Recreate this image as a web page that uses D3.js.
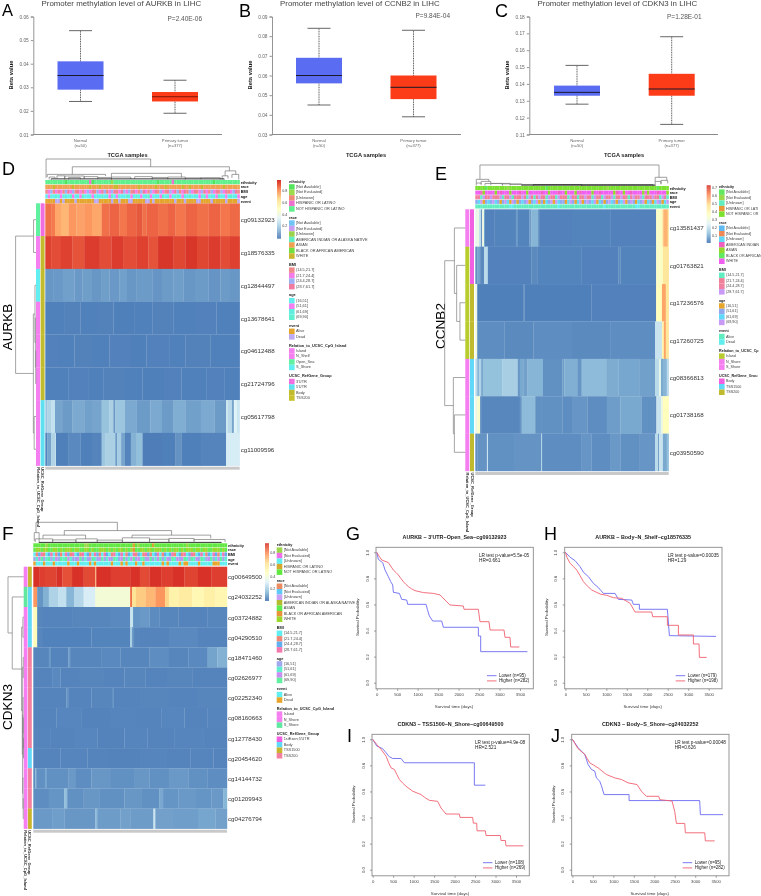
<!DOCTYPE html>
<html><head><meta charset="utf-8">
<style>html,body{margin:0;padding:0;background:#fff;overflow:hidden}svg{display:block;filter:blur(.3px)}text{font-family:"Liberation Sans",Arial,sans-serif}</style>
<script src="https://cdn.jsdelivr.net/npm/d3@7"></script></head><body>
<svg id="c" width="761" height="896"></svg>
<script>
// ---------- box plots: [low whisker, q1, median, q3, high whisker]
const boxGroups=["Normal","Primary tumor"];
const aurkbNormal=[.024,.029,.035,.041,.054], aurkbTumor=[.019,.024,.026,.028,.033];
const ccnb2Normal=[.045,.056,.060,.069,.084], ccnb2Tumor=[.039,.048,.054,.060,.083];
const cdkn3Normal=[.128,.133,.135,.139,.151], cdkn3Tumor=[.116,.133,.137,.146,.168];
const aurkbTicks=[.01,.02,.03,.04,.05,.06], ccnb2Ticks=[.03,.04,.05,.06,.07,.08,.09], cdkn3Ticks=[.11,.12,.13,.14,.15,.16,.17,.18];

// ---------- heatmap row labels and values as runs [end %, beta, end %, beta...]
const dProbes=["cg09132923","cg18576335","cg12844497","cg13678641","cg04612488","cg21724796","cg05617798","cg11009596"];
const dRow0=[3,.87,5,.85,8,.77,12,.74,16,.8,20,.78,24,.8,29,.77,33,.87,38,.89,42,.86,47,.89,50,.91,52,.87,58,.89,63,.87,67,.89,72,.86,78,.89,84,.87,90,.89,95,.86,100,.88];
const dRow1=[3,.95,8,.93,14,.95,20,.92,28,.96,34,.93,40,.96,47,.93,53,.95,58,.92,66,.97,72,.94,78,.97,84,.94,90,.96,95,.93,100,.95];
const dRow2=[4,.09,9,.095,15,.11,19,.095,24,.105,29,.09,33,.105,38,.095,42,.11,47,.09,55,.1,60,.085,66,.1,71,.105,77,.09,84,.1,90,.085,95,.1,100,.09];
const dRow3=[10,.042,18,.046,27,.042,35,.046,46,.04,55,.042,66,.046,77,.042,88,.044,100,.042];
const dRow4=[7,.044,15,.042,24,.046,33,.042,44,.044,52,.04,64,.044,72,.042,85,.046,100,.042];
const dRow5=[12,.042,22,.044,30,.042,41,.046,50,.042,61,.04,70,.044,83,.042,92,.044,100,.042];
const dRow6=[1,.2,3,.24,5,.28,9,.12,14,.1,20,.13,24,.11,29,.12,33,.19,35,.23,36,.1,41,.2,47,.13,54,.1,60,.13,66,.1,72,.14,80,.11,87,.13,93,.1,94,.3,96,.26,97,.12,98.5,.34,100,.3];
const dRow7=[1,.05,3,.12,5,.24,5.5,.28,12,.04,18,.06,24,.04,29,.05,31,.2,36,.23,37,.1,39,.22,41,.12,44,.05,47,.15,50,.18,60,.035,67,.04,70,.08,80,.04,93,.05,100,.32];

const eProbes=["cg13581437","cg01763821","cg17236576","cg17260725","cg08366813","cg01738168","cg03950590"];
const eRow0=[1,.28,2,.3,3,.2,3.5,.05,4.5,.3,5,.1,10,.036,21,.04,22,.08,28,.04,29,.08,32.5,.12,33,.05,50,.036,70,.04,93.5,.036,96.5,.36,97.2,.44,99.5,.56,100,.47];
const eRow1=[1,.06,2.5,.09,4.5,.05,6.5,.2,7,.04,29,.036,32,.05,55,.04,74,.036,75,.05,93.5,.04,97,.36,100,.47];
const eRow2=[1,.3,25,.034,25.5,.07,60,.034,93.5,.036,96.5,.38,98.5,.58,100,.47];
const eRow3=[1,.32,15,.055,30,.05,50,.055,70,.05,93,.055,96.5,.22,97.5,.42,98.5,.58,100,.47];
const eRow4=[1,.2,2,.12,3,.18,4,.1,14,.14,22,.17,23,.07,25,.1,27,.085,35,.12,45,.06,46,.08,53,.11,55,.07,68,.13,74,.105,85,.095,93,.085,95,.2,96,.28,97,.1,99,.12,100,.2];
const eRow5=[1,.3,2.5,.35,3,.05,23,.045,24,.07,31,.13,34,.06,45,.06,50,.055,58,.07,68,.055,75,.08,86,.1,93,.06,93.6,.03,96,.22,97,.3,100,.38];
const eRow6=[1,.06,6,.065,6.5,.25,7,.065,20,.06,34,.065,34.5,.18,35,.065,55,.055,60,.07,70,.055,75,.075,85,.06,93,.07,94.5,.2,95,.08,97,.22,99,.1,100,.14];

const fProbes=["cg00649500","cg24032252","cg03724882","cg04290510","cg18471460","cg02626977","cg02252340","cg08160663","cg12778430","cg20454620","cg14144732","cg01209943","cg04276794"];
const fRow0=[3,.95,6,.93,12,.92,15,.95,20,.9,26,.95,32,.91,32.5,.72,40,.95,50,.93,55,.95,60,.91,66,.95,72,.93,78,.95,85,.92,92,.95,100,.93];
const fRow1=[2,.78,5,.08,8,.14,13,.23,17,.27,21,.15,26,.24,32,.31,50,.42,51,.85,53,.62,58,.68,63,.72,68,.78,70,.66,75,.55,82,.58,88,.52,94,.56,100,.53];
const fRow2=[2,.5,5,.05,20,.045,40,.05,50,.055,51.5,.28,55,.08,60,.09,65,.06,75,.05,90,.045,100,.05];
const fRow3=[2,.5,5,.048,30,.04,50,.044,51,.22,52,.08,55,.05,70,.045,85,.055,100,.045];
const fRow4=[8,.05,9,.09,18,.045,19,.1,35,.05,45,.055,60,.05,70,.065,80,.05,90,.055,95,.11,100,.14];
const fRow5=[10,.045,14,.055,24,.045,36,.05,47,.045,58,.05,69,.045,82,.05,100,.045];
const fRow6=[17,.045,18,.08,30,.045,41,.05,41.5,.08,55,.045,70,.05,85,.045,100,.05];
const fRow7=[12,.045,25,.048,40,.043,52,.046,66,.045,78,.048,90,.045,100,.046];
const fRow8=[9,.046,21,.045,33,.048,47,.043,59,.046,73,.045,88,.046,100,.045];
const fRow9=[14,.045,28,.046,39,.045,55,.043,68,.046,81,.045,93,.046,100,.045];
const fRow10=[1,.06,1.5,.15,6,.07,7,.12,18,.07,22,.09,30,.065,40,.085,52,.07,60,.085,70,.07,80,.09,90,.07,100,.065];
const fRow11=[8,.065,16,.08,17.5,.17,26,.07,34,.085,47,.07,56,.085,65,.07,67,.12,75,.08,84,.09,92,.08,98,.09,100,.15];
const fRow12=[10,.09,16,.1,32,.085,33,.16,45,.095,50,.105,62,.095,63,.28,72,.105,85,.1,94,.115,100,.105];

// ---------- column annotation tracks, one digit per column (index into legend)
const dEthnicity="44444444044444444430444444414444444444444444440444443444444444444444404444444444".split("").map(Number);
const dRace="44464444444644444464446444446644444444644444464446444444644644446444444446444444".split("").map(Number);
const dBmi="01201310231203101213021320123013212031023102130210321320130213012310213021301230".split("").map(Number);
const dAge="01203012203102130021020302130120032103010231020130210230120302012310201320103021".split("").map(Number);
const dEvent="00001101000010000000110000010010001100000110100000000100010000110000100000100001".split("").map(Number);

const eEthnicity="44440444444441444444444444444044444444444444444444444414444444444444444444404444".split("").map(Number);
const eRace="66346666463666466636646666636646663664666463666646636666643664663666646466636664".split("").map(Number);
const eBmi="12031232123012302113203102321032103212031201232103120321302131202312301213210320".split("").map(Number);
const eAge="12301213210132031012130123010213032110231023013123021013210123013102130210231023".split("").map(Number);
const eEvent="00000000000000110000000000000000001000000000000000000100000000000011000000000000".split("").map(Number);

const fEthnicity="44444044444444444444400444444444444444444340444443444444444444404444444444444444".split("").map(Number);
const fRace="46646644664646664664466464466646464664646544664664666464646646466646646644666464".split("").map(Number);
const fBmi="01231023012103213021302103210320130230120312013210230120231021302310230120321032".split("").map(Number);
const fAge="01230130120313210023010231023012031023012302130230123012031202310312031023012301".split("").map(Number);
const fEvent="10001000100000100010000101000000100010100010010000000101000010110000100000111000".split("").map(Number);

// ---------- row side annotations (index into legend)
const dRelation=[2,0,3,0,0,0,0,0], dGroup=[0,2,2,2,2,2,1,1];
const eRelation=[1,0,0,0,2,2,2], eGroup=[0,0,2,2,1,1,2];
const fRelation=[0,2,0,0,0,0,0,0,0,0,0,0,0], fGroup=[2,1,1,1,3,3,3,3,3,1,3,3,2];

// ---------- legend text and colours
const ethnicityLabels=["[Not Available]","[Not Evaluated]","[Unknown]","HISPANIC OR LATINO","NOT HISPANIC OR LATINO"];
const raceLabels=["[Not Available]","[Not Evaluated]","[Unknown]","AMERICAN INDIAN OR ALASKA NATIVE","ASIAN","BLACK OR AFRICAN AMERICAN","WHITE"];
const eEthnicityLabels=["[Not Available]","[Not Evaluated]","[Unknown]","HISPANIC OR LATI","NOT HISPANIC OR"];
const eRaceLabels=["[Not Available]","[Not Evaluated]","[Unknown]","AMERICAN INDIAN","ASIAN","BLACK OR AFRICAN","WHITE"];
const bmiLabels=["(14.5,21.7]","(21.7,24.4]","(24.4,28.7]","(28.7,61.7]"];
const ageLabels=["(16,51]","(51,61]","(61,69]","(69,90]"];
const eventLabels=["Alive","Dead"];
const dRelLabels=["Island","N_Shelf","Open_Sea","S_Shore"], eRelLabels=["Island","N_Shore","S_Shore"], fRelLabels=["Island","N_Shore","S_Shore"];
const dGroupLabels=["3'UTR","5'UTR","Body","TSS200"], eGroupLabels=["Body","TSS1500","TSS200"], fGroupLabels=["1stExon;5'UTR","Body","TSS1500","TSS200"];

const dEthColors=["#54e45c","#9cdb4c","#f08a78","#f070d0","#5ef08c"], dRaceColors=["#6fc4f5","#c69cf0","#9bd24a","#60edc0","#f0a050","#70e040","#c9b52e"], dBmiColors=["#f08a8a","#f47ce8","#9db2f5","#f07aa0"], dAgeColors=["#60eef0","#f57ef0","#60eee0","#60f0d0"], dEventColors=["#e3a52c","#bcaaf5"], dRelColors=["#f57ef0","#f57ef0","#60f0a0","#60eef0"], dGroupColors=["#f06ee0","#5ee0f0","#c2bb2e","#c8c02c"];
const eEthColors=["#60e860","#9bd84c","#60eec0","#e8983a","#7ce030"], eRaceColors=["#60b8f0","#f08858","#60d8f8","#f060c0","#90d82c","#60e860","#f060f0"], eBmiColors=["#60eec0","#f08098","#f080a0","#c89af5"], eAgeColors=["#e8a52c","#90a8f0","#60d8f8","#c89af5"], eEventColors=["#60eec0","#60eeee"], eRelColors=["#b8cc2e","#f57ef0","#f57ef0"], eGroupColors=["#f060e0","#60d8f8","#c0bb2e"];
const fEthColors=["#9ad84a","#f070e8","#60eef0","#d4a82c","#60e840"], fRaceColors=["#ee8a60","#60c8f8","#c8a0f4","#b4bb2e","#60ec50","#e8953a","#9ad82c"], fBmiColors=["#60eef0","#f08878","#60b0f0","#f478b0"], fAgeColors=["#a0a8f0","#60eed0","#c890f0","#60f0a0"], fEventColors=["#60eef0","#e8a52c"], fRelColors=["#f57ef0","#f57ef0","#60e8a0"], fGroupColors=["#f060e0","#60d8f8","#c8b52e","#f480a0"];

// ---------- dendrograms. Columns: [from %, to %, height, left child height, right child height]
const dColTree=[[.4,54.2,1,.08,.62],[13.9,94.7,.62,.25,.42],[1,31,.25,.12,.17],[34,70,.3,.12,.1],[92.5,98,.42,.18,.25],[91,94,.18,0,.05],[96,99.5,.25,.08,0],[2,5,.12,0,.05],[6,10,.18,.05,0],[10,20,.17,.05,.06],[12,18,.1,0,0],[20,27,.14,.03,.04],[27,34,.1,.02,0],[34,44,.12,0,.03],[46,55,.14,.03,.04],[55,63,.1,0,.02],[63,72,.12,.02,.03],[72,80,.08,0,.02],[80,90,.09,.02,0],[3,92,.03,0,0]];
const eColTree=[[2.4,95,1,.3,.4],[.5,7,.3,.12,.2],[.5,3,.12,0,.03],[3,8,.2,.08,.1],[5,14,.1,0,.02],[8,18,.1,.02,.03],[14,24,.08,0,.02],[93,99,.4,.2,.25],[93,96,.2,0,.05],[96,99.5,.25,.08,.1],[18,30,.05,0,0],[30,55,.04,0,0],[55,92,.03,0,0],[24,93,.02,0,0]];
const fColTree=[[1.4,43.4,1,.5,.6],[16,71.4,.6,.38,.38],[5,27,.38,.22,.2],[51,91.6,.38,.25,.22],[.5,3,.5,.1,.05],[1,10,.2,.05,.08],[10,22,.15,.03,.05],[22,33,.2,.05,.08],[33,46,.14,.03,.05],[46,60,.25,.05,.08],[60,70,.18,.02,.06],[70,83,.22,.05,.1],[83,99,.17,.05,.04],[3,97,.03,0,0]];
// Rows: [height, child, child], a number is a row index
const dRowTree=[1,[.12,0,1],[.13,[.05,2,[.03,3,[.015,4,5]]],[.09,6,7]]];
const eRowTree=[1,[.53,0,[.42,1,[.26,2,3]]],[.58,4,[.53,5,6]]];
const fRowTree=[1,0,[.73,1,[.13,[.05,2,3],[.09,[.03,4,5],[.07,[.04,6,[.025,7,[.012,8,9]]],[.05,10,[.03,11,12]]]]]]];

// ---------- survival curves: [days, survival] pairs
const gLower=[[0,1],[40,.946],[147,.92],[204,.864],[285,.813],[342,.775],[391,.749],[407,.693],[554,.685],[611,.639],[733,.634],[757,.601],[1205,.601],[1237,.563],[1286,.512],[1368,.473],[1587,.473],[1628,.425],[2483,.425],[2483,.358],[2540,.358],[2540,.238],[3680,.238]];
const gHigher=[[0,1],[60,.97],[122,.941],[285,.921],[340,.895],[407,.864],[470,.845],[529,.826],[590,.8],[651,.775],[710,.755],[773,.737],[850,.72],[936,.706],[1140,.691],[1384,.685],[1547,.673],[1669,.634],[1791,.596],[2116,.588],[2133,.563],[2483,.563],[2523,.468],[2743,.468],[2768,.404],[3110,.404],[3134,.348],[3256,.348],[3272,.274],[3484,.274]];
const hLower=[[0,1],[114,.962],[236,.936],[358,.89],[440,.847],[562,.813],[684,.762],[806,.729],[928,.685],[1213,.685],[1294,.639],[1620,.634],[1661,.601],[1807,.601],[1807,.563],[2491,.563],[2540,.361],[3680,.355]];
const hHigher=[[0,1],[40,.96],[114,.916],[200,.89],[277,.864],[360,.82],[440,.775],[540,.74],[643,.711],[847,.68],[1009,.67],[1172,.652],[1376,.647],[1579,.609],[1701,.542],[2108,.542],[2133,.506],[2491,.506],[2491,.44],[2760,.44],[2760,.366],[3126,.366],[3126,.297],[3264,.297],[3272,.194],[3451,.194]];
const iLower=[[0,1],[98,.949],[244,.928],[407,.866],[488,.853],[692,.853],[773,.82],[2483,.82],[2483,.648],[2751,.648]];
const iHigher=[[0,1],[100,.96],[204,.923],[326,.871],[390,.82],[448,.781],[529,.769],[590,.73],[651,.692],[730,.665],[814,.64],[977,.602],[1180,.576],[1290,.55],[1384,.532],[1587,.524],[1669,.473],[1791,.427],[2116,.427],[2133,.401],[2442,.401],[2458,.357],[2540,.357],[2548,.298],[2751,.298],[2768,.262],[3118,.262],[3134,.224],[3240,.224],[3256,.183],[3679,.183]];
const jLower=[[0,1],[138,.936],[301,.884],[383,.807],[464,.769],[545,.756],[586,.704],[667,.679],[708,.645],[773,.576],[1384,.576],[1384,.53],[3109,.53],[3126,.422],[3679,.422]];
const jHigher=[[0,1],[138,.928],[301,.884],[423,.82],[627,.781],[830,.73],[1034,.704],[1197,.692],[1359,.666],[1579,.653],[1685,.602],[1807,.563],[2108,.563],[2133,.537],[2434,.527],[2499,.447],[2540,.355],[2743,.355],[2759,.283],[3232,.283],[3248,.221],[3476,.221]];
const kmXTicks=[0,500,1000,1500,2000,2500,3000,3500], kmYTicks=[0,.2,.4,.6,.8,1];

const trackNames=["ethnicity","race","BMI","age","event"];
const rampColors=["#4575b4","#91bfdb","#e0f3f8","#ffffbf","#fee090","#fc8d59","#d73027"];

const svg=d3.select("#c");
function txt(g,x,y,s,size,o={}){
  return g.append("text").attr("x",x).attr("y",y).attr("font-size",size).attr("fill",o.fill||"#333")
    .attr("font-weight",o.bold?"bold":null).attr("text-anchor",o.anchor||"start").attr("dominant-baseline","central")
    .attr("font-family",o.font||null).attr("transform",o.rot?`rotate(${o.rot} ${x} ${y})`:null).text(s);
}

// ---------- panel letters and gene names
const letterFont='"Open Sans",sans-serif';
[["A",2,15.5,16.5],["B",239,16.5,18],["C",495,16.5,18],["D",2,175,18],["E",435,180,18],["F",2,540,19],["G",346,540,18],["H",544,540,18],["I",347,742,18],["J",551,742,18]].forEach(d=>{
  svg.append("text").attr("x",d[1]).attr("y",d[2]).attr("font-size",d[3]).attr("font-family",letterFont).attr("fill","#000").text(d[0]);
});
[["AURKB",11.5,327],["CCNB2",444.5,326],["CDKN3",11.5,707]].forEach(d=>{
  svg.append("text").attr("font-size",13.5).attr("font-family",letterFont).attr("fill","#000").attr("text-anchor","middle")
    .attr("transform",`translate(${d[1]},${d[2]}) rotate(-90)`).text(d[0]);
});

// ---------- box plots
function boxPanel(c){
  const g=svg.append("g");
  const x=d3.scalePoint().domain(boxGroups).range(c.centers);
  const y=d3.scaleLinear().domain(d3.extent(c.ticks)).range([134.5,16.5]);
  const ax=g.append("g").attr("transform",`translate(${c.x0},0)`).call(d3.axisLeft(y).tickValues(c.ticks).tickSize(2.5).tickFormat(d3.format(".2f")));
  ax.selectAll("path,line").attr("stroke","#8a8a8a").attr("stroke-width",.9);
  ax.selectAll("text").attr("font-size",4.8).attr("fill","#666").attr("x",-4.5);
  g.append("line").attr("x1",c.x0).attr("x2",c.x1).attr("y1",134.5).attr("y2",134.5).attr("stroke","#8a8a8a").attr("stroke-width",1);
  c.boxes.forEach((b,i)=>{
    const cx=x(boxGroups[i]), col=i?"#fc3c18":"#5a6cf2";
    g.append("line").attr("x1",cx).attr("x2",cx).attr("y1",y(b[0])).attr("y2",y(b[4])).attr("stroke","#444").attr("stroke-width",.9).attr("stroke-dasharray","1,.7");
    [b[0],b[4]].forEach(v=>g.append("line").attr("x1",cx-11.5).attr("x2",cx+11.5).attr("y1",y(v)).attr("y2",y(v)).attr("stroke","#555").attr("stroke-width",.9));
    g.append("rect").attr("x",cx-23).attr("width",46).attr("y",y(b[3])).attr("height",y(b[1])-y(b[3])).attr("fill",col);
    g.append("line").attr("x1",cx-23).attr("x2",cx+23).attr("y1",y(b[2])).attr("y2",y(b[2])).attr("stroke",i&&c.dark?"#7a1a08":"#1a1a2a").attr("stroke-width",1);
    txt(g,cx,140.5,boxGroups[i],4.2,{anchor:"middle",fill:"#666"});
    txt(g,cx,145.5,i?"(n=377)":"(n=50)",4.2,{anchor:"middle",fill:"#666"});
  });
  txt(g,c.titleX,3.6,c.title,7.9,{fill:"#444"});
  txt(g,c.pX,c.pY,c.p,6.5,{fill:"#555",font:'"Liberation Serif",serif'});
  txt(g,c.labelX,75,"Beta value",5.8,{bold:1,rot:-90,anchor:"middle",fill:"#222"});
  txt(g,c.sampleX,154.5,"TCGA samples",5.7,{bold:1,anchor:"middle",fill:"#222"});
}
boxPanel({x0:33.3,x1:222,centers:[80.5,175],ticks:aurkbTicks,boxes:[aurkbNormal,aurkbTumor],title:"Promoter methylation level of AURKB in LIHC",titleX:41.5,p:"P=2.40E-06",pX:167.5,pY:18,labelX:10.5,sampleX:127.5,dark:1});
boxPanel({x0:272,x1:461,centers:[319,413.5],ticks:ccnb2Ticks,boxes:[ccnb2Normal,ccnb2Tumor],title:"Promoter methylation level of CCNB2 in LIHC",titleX:280,p:"P=9.84E-04",pX:415.5,pY:15.7,labelX:249.5,sampleX:366});
boxPanel({x0:529.3,x1:718,centers:[577,671.7],ticks:cdkn3Ticks,boxes:[cdkn3Normal,cdkn3Tumor],title:"Promoter methylation level of CDKN3 in LIHC",titleX:537.5,p:"P=1.28E-01",pX:667,pY:16.6,labelX:507,sampleX:624});

// ---------- heatmaps
function heatPanel(c){
  const g=svg.append("g");
  const w=c.x1-c.x0;
  const px=d3.scaleLinear().domain([0,100]).range([c.x0,c.x1]);
  const rows=d3.scaleBand().domain(d3.range(c.rows.length)).range([c.top,c.bottom]);
  const color=d3.scaleLinear().domain(d3.range(7).map(i=>c.vMin+(c.vMax-c.vMin)*i/6)).range(rampColors).clamp(true);

  // cells
  c.rows.forEach((r,i)=>{
    let prev=0;
    for(let k=0;k<r.length;k+=2){
      g.append("rect").attr("x",px(prev)).attr("y",rows(i)).attr("width",px(r[k])-px(prev)+.2).attr("height",rows.bandwidth()+.2).attr("fill",color(r[k+1]));
      prev=r[k];
    }
    txt(g,c.x1+1,rows(i)+rows.bandwidth()/2,c.probes[i],6.2,{fill:"#333"});
  });

  // column tracks
  c.tracks.forEach((t,ti)=>{
    const y=c.trackTop+ti*c.trackStep;
    t.values.forEach((v,i)=>{
      g.append("rect").attr("x",c.x0+i*w/t.values.length).attr("y",y).attr("width",w/t.values.length+.15).attr("height",c.trackStep-.5).attr("fill",t.colors[v]);
    });
    txt(g,c.x1+1,y+c.trackStep/2-.2,trackNames[ti],3.9,{bold:1,fill:"#111"});
  });

  // row side tracks
  [[c.sideX[0],c.relation,c.relColors],[c.sideX[1],c.group,c.groupColors]].forEach(s=>{
    s[1].forEach((v,i)=>g.append("rect").attr("x",s[0]).attr("y",rows(i)).attr("width",c.sideW).attr("height",rows.bandwidth()+.2).attr("fill",s[2][v]));
  });
  txt(g,c.sideX[0]+c.sideW/2,c.bottom+1.5,"Relation_to_UCSC_CpG_Island",4,{bold:1,rot:90,fill:"#222"});
  txt(g,c.sideX[1]+c.sideW/2,c.bottom+1.5,"UCSC_RefGene_Group",4,{bold:1,rot:90,fill:"#222"});

  // grey strip of tiny sample names
  g.append("rect").attr("x",c.x0).attr("y",c.bottom+1).attr("width",w).attr("height",3).attr("fill","#c9c9c9");

  // column dendrogram
  const dy=d3.scaleLinear().domain([0,1]).range([c.dendBottom,c.dendTop]);
  c.colTree.forEach(d=>{
    const p=d3.path();
    p.moveTo(px(d[0]),dy(d[3])); p.lineTo(px(d[0]),dy(d[2])); p.lineTo(px(d[1]),dy(d[2])); p.lineTo(px(d[1]),dy(d[4]));
    g.append("path").attr("d",p.toString()).attr("fill","none").attr("stroke",d[2]<.05?"#333":"#777").attr("stroke-width",d[2]<.05?1:.7);
  });

  // row dendrogram
  const hx=d3.scaleLinear().domain([0,1]).range([c.sideX[0],c.dendLeft]);
  (function draw(n){
    if(typeof n==="number") return {y:rows(n)+rows.bandwidth()/2,x:c.sideX[0]};
    const a=draw(n[1]), b=draw(n[2]), x=hx(n[0]);
    const p=d3.path(); p.moveTo(a.x,a.y); p.lineTo(x,a.y); p.lineTo(x,b.y); p.lineTo(b.x,b.y);
    g.append("path").attr("d",p.toString()).attr("fill","none").attr("stroke","#808080").attr("stroke-width",.7);
    return {y:(a.y+b.y)/2,x};
  })(c.rowTree);

  // colour bar
  const bar=d3.scaleLinear().domain([c.barMax,c.barMin]).range([c.barTop,c.barTop+57.4]);
  d3.range(c.barMax,c.barMin,-(c.barMax-c.barMin)/57).forEach(v=>{
    g.append("rect").attr("x",c.barX).attr("y",bar(v)).attr("width",4).attr("height",1.2).attr("fill",color(v));
  });
  c.barTicks.forEach(v=>txt(g,c.barX+5.2,bar(v),String(v),3.7,{fill:"#444"}));

  // legend
  let y=c.legendTop;
  const fs=c.legendFont||3.85;
  c.legend.forEach(l=>{
    txt(g,c.legendX,y,l.title,fs,{bold:1,fill:"#222"});
    y+=2.7;
    l.labels.forEach((s,i)=>{
      g.append("rect").attr("x",c.legendX).attr("y",y).attr("width",5.6).attr("height",5.5).attr("fill",l.colors[i]);
      txt(g,c.legendX+7,y+2.75,s,fs,{fill:"#444"});
      y+=5.5;
    });
    y+=5.9;
  });
}
heatPanel({x0:45.3,x1:239.7,top:203.3,bottom:465.7,rows:[dRow0,dRow1,dRow2,dRow3,dRow4,dRow5,dRow6,dRow7],probes:dProbes,vMin:.017,vMax:.98,
  trackTop:180,trackStep:4.75,tracks:[{values:dEthnicity,colors:dEthColors},{values:dRace,colors:dRaceColors},{values:dBmi,colors:dBmiColors},{values:dAge,colors:dAgeColors},{values:dEvent,colors:dEventColors}],
  sideX:[36,40.6],sideW:4,relation:dRelation,relColors:dRelColors,group:dGroup,groupColors:dGroupColors,
  dendTop:159,dendBottom:179.5,colTree:dColTree,dendLeft:15.6,rowTree:dRowTree,
  barX:277,barTop:180,barMax:.98,barMin:.017,barTicks:[.8,.6,.4,.2],legendX:289,legendTop:181.5,
  legend:[{title:"ethnicity",labels:ethnicityLabels,colors:dEthColors},{title:"race",labels:raceLabels,colors:dRaceColors},{title:"BMI",labels:bmiLabels,colors:dBmiColors},{title:"age",labels:ageLabels,colors:dAgeColors},{title:"event",labels:eventLabels,colors:dEventColors},{title:"Relation_to_UCSC_CpG_Island",labels:dRelLabels,colors:dRelColors},{title:"UCSC_RefGene_Group",labels:dGroupLabels,colors:dGroupColors}]});
heatPanel({x0:475.3,x1:668.7,top:209.3,bottom:471,rows:[eRow0,eRow1,eRow2,eRow3,eRow4,eRow5,eRow6],probes:eProbes,vMin:.016,vMax:.734,
  trackTop:186,trackStep:4.6,tracks:[{values:eEthnicity,colors:eEthColors},{values:eRace,colors:eRaceColors},{values:eBmi,colors:eBmiColors},{values:eAge,colors:eAgeColors},{values:eEvent,colors:eEventColors}],
  sideX:[465.3,470],sideW:4,relation:eRelation,relColors:eRelColors,group:eGroup,groupColors:eGroupColors,
  dendTop:165,dendBottom:185.5,colTree:eColTree,dendLeft:444.7,rowTree:eRowTree,
  barX:706.7,barTop:185.3,barMax:.734,barMin:.016,barTicks:[.7,.6,.5,.4,.3,.2,.1],legendX:719,legendTop:186.7,legendFont:3.7,
  legend:[{title:"ethnicity",labels:eEthnicityLabels,colors:eEthColors},{title:"race",labels:eRaceLabels,colors:eRaceColors},{title:"BMI",labels:bmiLabels,colors:eBmiColors},{title:"age",labels:ageLabels,colors:eAgeColors},{title:"event",labels:eventLabels,colors:eEventColors},{title:"Relation_to_UCSC_Cp",labels:eRelLabels,colors:eRelColors},{title:"UCSC_RefGene_Grou",labels:eGroupLabels,colors:eGroupColors}]});
heatPanel({x0:33.3,x1:227,top:566.7,bottom:828.7,rows:[fRow0,fRow1,fRow2,fRow3,fRow4,fRow5,fRow6,fRow7,fRow8,fRow9,fRow10,fRow11,fRow12],probes:fProbes,vMin:.013,vMax:.954,
  trackTop:543.3,trackStep:4.55,tracks:[{values:fEthnicity,colors:fEthColors},{values:fRace,colors:fRaceColors},{values:fBmi,colors:fBmiColors},{values:fAge,colors:fAgeColors},{values:fEvent,colors:fEventColors}],
  sideX:[23.7,28],sideW:3.8,relation:fRelation,relColors:fRelColors,group:fGroup,groupColors:fGroupColors,
  dendTop:522.3,dendBottom:543,colTree:fColTree,dendLeft:8,rowTree:fRowTree,
  barX:265,barTop:543.3,barMax:.954,barMin:.013,barTicks:[.8,.6,.4,.2],legendX:276.7,legendTop:544.7,
  legend:[{title:"ethnicity",labels:ethnicityLabels,colors:fEthColors},{title:"race",labels:raceLabels,colors:fRaceColors},{title:"BMI",labels:bmiLabels,colors:fBmiColors},{title:"age",labels:ageLabels,colors:fAgeColors},{title:"event",labels:eventLabels,colors:fEventColors},{title:"Relation_to_UCSC_CpG_Island",labels:fRelLabels,colors:fRelColors},{title:"UCSC_RefGene_Group",labels:fGroupLabels,colors:fGroupColors}]});

// ---------- survival panels
function kmPanel(c){
  const g=svg.append("g");
  const fw=157.3, T=c.top, B=c.top+141.5;
  const x=d3.scaleLinear().domain([0,3500]).range([c.left+.7,c.left+.7+143.3]);
  const y=d3.scaleLinear().domain([0,1]).range([T+135.4,T+5]);
  g.append("rect").attr("x",c.left).attr("y",T).attr("width",fw).attr("height",B-T).attr("fill","none").attr("stroke","#8a8a8a").attr("stroke-width",.9);
  const ax=g.append("g").attr("transform",`translate(0,${B})`).call(d3.axisBottom(x).tickValues(kmXTicks).tickSize(2).tickFormat(d3.format("d")));
  ax.select("path").remove();
  ax.selectAll("line").attr("stroke","#777").attr("stroke-width",.7);
  ax.selectAll("text").attr("font-size",4.2).attr("fill","#444").attr("y",4);
  const ay=g.append("g").attr("transform",`translate(${c.left},0)`).call(d3.axisLeft(y).tickValues(kmYTicks).tickSize(2).tickFormat(d3.format(".1f")));
  ay.select("path").remove();
  ay.selectAll("line").attr("stroke","#777").attr("stroke-width",.7);
  ay.selectAll("text").attr("font-size",4.2).attr("fill","#444").attr("dy",0).attr("x",0).attr("y",0).attr("text-anchor","middle")
    .attr("dominant-baseline","central").attr("transform","translate(-9,0) rotate(-90)");
  const line=d3.line().x(d=>x(d[0])).y(d=>y(d[1])).curve(d3.curveLinear);
  g.append("path").attr("d",line(c.lower)).attr("fill","none").attr("stroke","#6a6af2").attr("stroke-width",.9);
  g.append("path").attr("d",line(c.higher)).attr("fill","none").attr("stroke","#f0606e").attr("stroke-width",.9);
  txt(g,c.left+78.5,T-10.3,c.title,5.4,{bold:1,anchor:"middle",fill:"#222"});
  txt(g,c.labelX,T+70,"Survival Probability",4.4,{rot:-90,anchor:"middle",fill:"#333"});
  txt(g,c.left+78,B+18,"Survival time (days)",4.4,{anchor:"middle",fill:"#333"});
  txt(g,c.left+103,T+7.8,c.lr,4.7,{fill:"#222"});
  txt(g,c.left+103,T+12.8,c.hr,4.7,{fill:"#222"});
  [[c.lowLabel,"#6a6af2",T+128.4],[c.highLabel,"#f0606e",T+133.6]].forEach(d=>{
    g.append("line").attr("x1",c.left+111).attr("x2",c.left+120.5).attr("y1",d[2]).attr("y2",d[2]).attr("stroke",d[1]).attr("stroke-width",.9);
    txt(g,c.left+123,d[2],d[0],4.5,{fill:"#222"});
  });
}
kmPanel({left:376,top:547.3,lower:gLower,higher:gHigher,title:"AURKB \u2212 3'UTR\u2212Open_Sea\u2212cg09132923",lr:"LR test p-value=5.5e-05",hr:"HR=0.661",lowLabel:"Lower (n=95)",highLabel:"Higher (n=282)",labelX:357.5});
kmPanel({left:564.7,top:547.3,lower:hLower,higher:hHigher,title:"AURKB \u2212 Body\u2212N_Shelf\u2212cg18576335",lr:"LR test p-value=0.00035",hr:"HR=1.29",lowLabel:"Lower (n=179)",highLabel:"Higher (n=198)",labelX:546.7});
kmPanel({left:372,top:734.3,lower:iLower,higher:iHigher,title:"CDKN3 \u2212 TSS1500\u2212N_Shore\u2212cg00649500",lr:"LR test p-value=4.9e-08",hr:"HR=2.521",lowLabel:"Lower (n=108)",highLabel:"Higher (n=269)",labelX:354});
kmPanel({left:571.7,top:734.3,lower:jLower,higher:jHigher,title:"CDKN3 \u2212 Body\u2212S_Shore\u2212cg24032252",lr:"LR test p-value=0.00048",hr:"HR=0.626",lowLabel:"Lower (n=95)",highLabel:"Higher (n=282)",labelX:553.5});
</script></body></html>
